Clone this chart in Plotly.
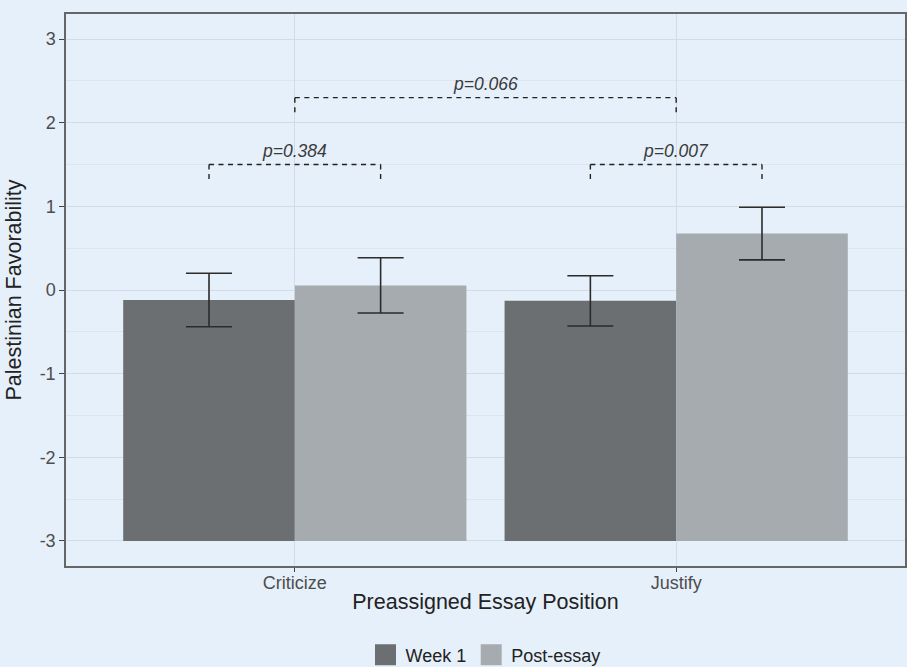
import plotly.graph_objects as go

# ---- data ----
categories = ["Criticize", "Justify"]
week1_mean = [-0.12, -0.13]
week1_err = [0.32, 0.30]
post_mean = [0.055, 0.675]
post_err = [0.33, 0.315]
series_names = ["Week 1", "Post-essay"]
bar_base = -3

# comparisons between bars / categories
cmp_left_cat = [0, 1, 0]
cmp_left_grp = [0, 0, None]
cmp_right_cat = [0, 1, 1]
cmp_right_grp = [1, 1, None]
cmp_y = [1.5, 1.5, 2.3]
cmp_drop = [0.22, 0.22, 0.22]
cmp_p = ["p=0.384", "p=0.007", "p=0.066"]

y_ticks = [-3, -2, -1, 0, 1, 2, 3]
y_ticktext = ["-3", "-2", "-1", "0", "1", "2", "3"]

# ---- style ----
BG = "rgb(230,240,250)"
GRID = "rgb(211,220,230)"
GRID_MINOR = "rgb(220,228,238)"
COLORS = ["rgb(108,111,113)", "rgb(166,171,176)"]
FONT = "Liberation Sans, Arial, sans-serif"
bargap = 0.1
group_w = 1 - bargap
half = group_w / 4  # offset of each bar center from category center

fig = go.Figure()
for name, means, errs, col in [(series_names[0], week1_mean, week1_err, COLORS[0]),
                               (series_names[1], post_mean, post_err, COLORS[1])]:
    fig.add_trace(go.Bar(
        name=name, x=categories, y=[m - bar_base for m in means], base=bar_base,
        marker=dict(color=col, line=dict(width=0)), showlegend=False,
        error_y=dict(type="data", array=errs, visible=True, color="#2b2b2b",
                     thickness=1.6, width=23),
    ))
# legend entries (larger square keys)
for name, col in zip(series_names, COLORS):
    fig.add_trace(go.Scatter(
        name=name, x=[None], y=[None], mode="markers",
        marker=dict(symbol="square", size=16, color=col, line=dict(color=col, width=5)),
        showlegend=True,
    ))

def xpos(cat, grp):
    if grp is None:
        return cat
    return cat + (-half if grp == 0 else half)

for lc, lg, rc, rg, yy, dd, pt in zip(cmp_left_cat, cmp_left_grp, cmp_right_cat,
                                       cmp_right_grp, cmp_y, cmp_drop, cmp_p):
    x0 = xpos(lc, lg)
    x1 = xpos(rc, rg)
    line = dict(color="#222222", width=1.4, dash="5px,4.5px")
    fig.add_shape(type="line", xref="x", yref="y", x0=x0, x1=x1, y0=yy, y1=yy, line=line)
    fig.add_shape(type="line", xref="x", yref="y", x0=x0, x1=x0, y0=yy, y1=yy - dd, line=line)
    fig.add_shape(type="line", xref="x", yref="y", x0=x1, x1=x1, y0=yy, y1=yy - dd, line=line)
    fig.add_annotation(x=(x0 + x1) / 2, y=yy, xref="x", yref="y", text="<i>" + pt + "</i>",
                       showarrow=False, yanchor="bottom", yshift=2,
                       font=dict(family=FONT, size=17.5, color="#3a3a3a"))

fig.update_layout(
    width=907, height=667,
    paper_bgcolor=BG, plot_bgcolor=BG,
    margin=dict(l=66, r=2, t=14, b=101, autoexpand=False),
    barmode="group", bargap=bargap, bargroupgap=0,
    font=dict(family=FONT, size=18, color="#4d4d4d"),
    showlegend=True,
    legend=dict(orientation="h", x=0.5, xanchor="center",
                yref="container", y=0.018, yanchor="middle",
                font=dict(family=FONT, size=18, color="#222222"), bgcolor="rgba(0,0,0,0)",
                itemwidth=30, tracegroupgap=0, itemsizing="trace"),
)
fig.update_xaxes(
    type="category", range=[-0.6, 1.6],
    showgrid=True, gridcolor=GRID, gridwidth=1,
    showline=True, linecolor="#666666", linewidth=1.5, mirror=True,
    ticks="outside", ticklen=4, tickcolor="#444444", ticklabelstandoff=-4,
    tickfont=dict(family=FONT, size=18, color="#4d4d4d"),
    title=dict(text="Preassigned Essay Position", standoff=2,
               font=dict(family=FONT, size=21.5, color="#222222")),
)
fig.update_yaxes(
    range=[-3.3, 3.3], tickvals=y_ticks, ticktext=y_ticktext,
    showgrid=True, gridcolor=GRID, gridwidth=1.2,
    minor=dict(dtick=0.5, showgrid=True, gridcolor=GRID_MINOR, gridwidth=1),
    zeroline=False,
    showline=True, linecolor="#666666", linewidth=1.5, mirror=True,
    ticks="outside", ticklen=5, tickcolor="#444444",
    tickfont=dict(family=FONT, size=18, color="#4d4d4d"),
    title=dict(text="Palestinian Favorability", standoff=12,
               font=dict(family=FONT, size=21.5, color="#222222")),
)

fig.write_html("out.html", config={"displayModeBar": False},
               post_script="document.body.style.margin='0px';")
